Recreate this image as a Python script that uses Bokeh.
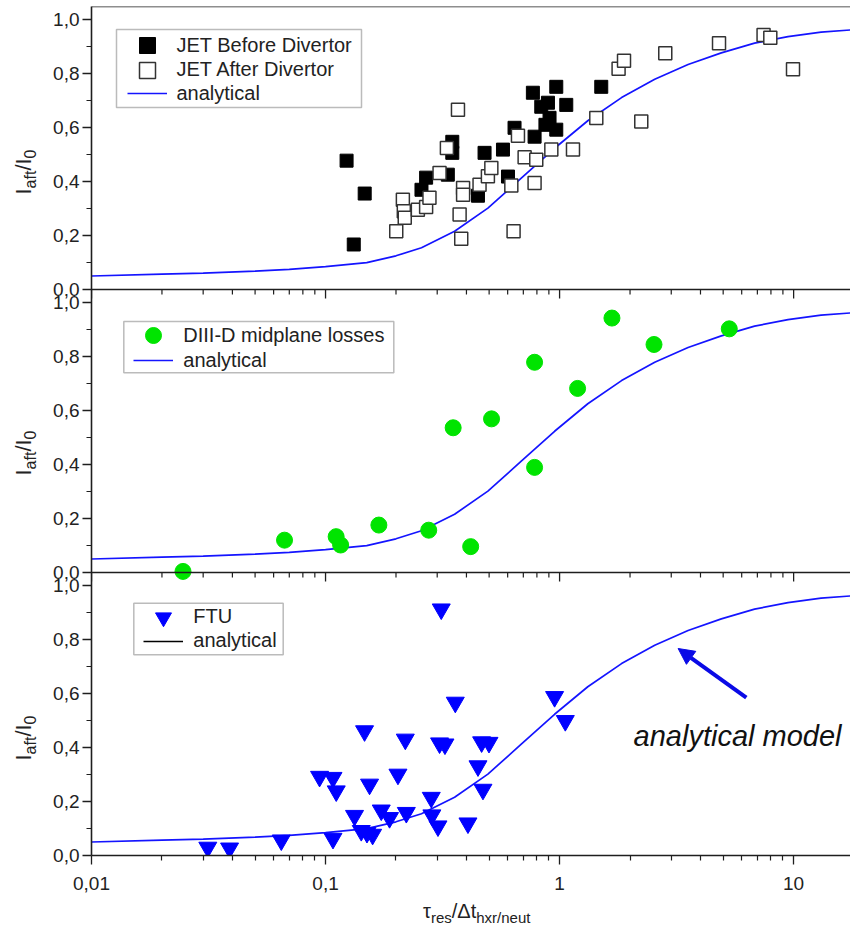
import math
from bokeh.plotting import figure
from bokeh.layouts import row, column
from bokeh.models import (Range1d, FixedTicker, Span, Label, Legend, LegendItem,
                          BoxAnnotation, Arrow, NormalHead, Div)
from bokeh.embed import file_html
from bokeh.resources import INLINE

# ---------------- data ----------------
curve_x = [0.01, 0.02, 0.03, 0.05, 0.07, 0.1, 0.15, 0.2, 0.257, 0.356, 0.494, 0.686,
           0.952, 1.32, 1.84, 2.55, 3.54, 4.91, 6.81, 9.46, 13.1, 17.5]
curve_y = [0.050, 0.057, 0.061, 0.068, 0.075, 0.085, 0.100, 0.125, 0.155, 0.216, 0.302, 0.413,
           0.524, 0.626, 0.712, 0.780, 0.835, 0.878, 0.914, 0.938, 0.955, 0.963]

jet_before_x = [0.123, 0.147, 0.132, 0.257, 0.269, 0.348, 0.348, 0.333, 0.448, 0.478, 0.573,
                0.602, 0.642, 0.769, 0.782, 0.892, 0.906, 0.968, 0.968, 1.068, 1.507, 0.835, 0.870]
jet_before_y = [0.478, 0.356, 0.167, 0.370, 0.415, 0.548, 0.507, 0.426, 0.348, 0.507, 0.519,
                0.419, 0.600, 0.730, 0.567, 0.693, 0.637, 0.752, 0.593, 0.685, 0.752, 0.678, 0.611]

jet_after_x = [0.368, 0.330, 0.214, 0.216, 0.218, 0.2005, 0.248, 0.269, 0.278, 0.307, 0.387,
               0.387, 0.374, 0.380, 0.455, 0.494, 0.511, 0.664, 0.709, 0.795, 0.922, 1.141,
               0.782, 0.622, 0.636, 1.435, 2.234, 1.787, 1.885, 2.829, 4.80, 7.44, 7.95, 9.94]
jet_after_y = [0.667, 0.525, 0.333, 0.290, 0.266, 0.216, 0.296, 0.306, 0.340, 0.432, 0.377,
               0.352, 0.278, 0.188, 0.389, 0.420, 0.451, 0.570, 0.491, 0.481, 0.519, 0.519,
               0.395, 0.386, 0.216, 0.636, 0.623, 0.819, 0.849, 0.877, 0.914, 0.944, 0.934, 0.817]

diiid_x = [0.0246, 0.0668, 0.111, 0.116, 0.169, 0.276, 0.417, 0.351, 0.512, 0.782, 0.782,
           1.194, 1.674, 2.532, 5.31]
diiid_y = [0.004, 0.120, 0.133, 0.102, 0.176, 0.157, 0.096, 0.537, 0.570, 0.780, 0.390,
           0.683, 0.944, 0.846, 0.904]

ftu_x = [0.0314, 0.0389, 0.0647, 0.1076, 0.0943, 0.1076, 0.1111, 0.1468, 0.1542, 0.133,
         0.1503, 0.1589, 0.1421, 0.173, 0.1877, 0.2039, 0.2192, 0.2214, 0.3122, 0.283,
         0.2847, 0.3023, 0.307, 0.3238, 0.3584, 0.406, 0.4481, 0.4706, 0.4644, 0.4993,
         0.952, 1.058]
ftu_y = [0.030, 0.027, 0.057, 0.063, 0.293, 0.289, 0.239, 0.462, 0.264, 0.148,
         0.085, 0.078, 0.092, 0.168, 0.140, 0.301, 0.431, 0.159, 0.914, 0.215,
         0.150, 0.109, 0.417, 0.413, 0.568, 0.120, 0.332, 0.245, 0.421, 0.419,
         0.589, 0.500]

panel_y_ticks = [0.0, 0.2, 0.4, 0.6, 0.8, 1.0]
panel_y_minor = [0.1, 0.3, 0.5, 0.7, 0.9]
x_major = [0.01, 0.1, 1.0, 10.0]
x_major_labels = ["0,01", "0,1", "1", "10"]
x_minor = [m * d for d in (0.01, 0.1, 1.0) for m in range(2, 10)] + [m * 10.0 for m in range(2, 10)]

# ---------------- style ----------------
FONT = "Liberation Sans"
AX = "#1e1e1e"
BLUE = "#1414ff"
GREEN = "#00e400"
X_MIN, X_MAX = 0.01, 17.5
PH = 1.05  # height of one panel in y units
YDIV_W = 40
FIG_W, FIG_H = 850 - YDIV_W, 895

p = figure(width=FIG_W, height=FIG_H, x_axis_type="log", x_range=Range1d(X_MIN, X_MAX),
           y_range=Range1d(0, 3 * PH), output_backend="svg", toolbar_location=None,
           min_border_left=91 - YDIV_W, min_border_right=0, min_border_top=6,
           min_border_bottom=40)
p.extra_y_ranges = {"p1": Range1d(-2 * PH, PH), "p2": Range1d(-PH, 2 * PH),
                    "off": Range1d(5, 6)}
p.outline_line_color = None
p.xgrid.visible = False
p.ygrid.visible = False
p.background_fill_color = "white"
p.border_fill_color = "white"

# y axis: three stacked panels on one axis
yt, ym, yo = [], [], {}
for off in (0.0, PH, 2 * PH):
    for v in panel_y_ticks:
        t = round(off + v, 4)
        yt.append(t)
        yo[t] = f"{v:.1f}".replace(".", ",")
    for v in panel_y_minor:
        ym.append(round(off + v, 4))
ax = p.yaxis[0]
ax.ticker = FixedTicker(ticks=yt, minor_ticks=ym)
ax.major_label_overrides = yo
ax.major_tick_out = 9
ax.major_tick_in = 0
ax.minor_tick_out = 5
ax.minor_tick_in = 0
ax.major_label_standoff = 3
for a in (p.yaxis[0], p.xaxis[0]):
    a.axis_line_color = AX
    a.axis_line_width = 1.6
    a.major_tick_line_color = AX
    a.minor_tick_line_color = AX
    a.major_tick_line_width = 1.3
    a.minor_tick_line_width = 1.2
    a.major_label_text_font = FONT
    a.major_label_text_font_size = "19px"
    a.major_label_text_color = "#222222"

bx = p.xaxis[0]
bx.ticker = FixedTicker(ticks=x_major, minor_ticks=x_minor)
bx.major_label_overrides = dict(zip(x_major, x_major_labels))
bx.major_tick_out = 9
bx.major_tick_in = 0
bx.minor_tick_out = 5
bx.minor_tick_in = 0
bx.major_label_standoff = 12

# panel frames and the tick rows on the inner panel boundaries
for loc in (PH, 2 * PH, 3 * PH):
    p.add_layout(Span(location=loc, dimension="width", line_color=AX, line_width=1.6))
MAJ_L, MIN_L = 9 / 269.5, 5 / 269.5
for b in (PH, 2 * PH):
    p.segment(x0=x_major, y0=[b] * len(x_major), x1=x_major, y1=[b - MAJ_L] * len(x_major),
              line_color=AX, line_width=1.3)
    p.segment(x0=x_minor, y0=[b] * len(x_minor), x1=x_minor, y1=[b - MIN_L] * len(x_minor),
              line_color=AX, line_width=1.2)

# ---------------- panel 1: JET ----------------
c1 = p.line(curve_x, curve_y, line_color=BLUE, line_width=1.7, y_range_name="p1")
r_bef = p.scatter(jet_before_x, jet_before_y, marker="square", size=13, fill_color="black",
                  line_color="black", y_range_name="p1")
r_aft = p.scatter(jet_after_x, jet_after_y, marker="square", size=13, fill_color="white",
                  line_color="#333333", line_width=1.5, y_range_name="p1")

# ---------------- panel 2: DIII-D ----------------
c2 = p.line(curve_x, curve_y, line_color=BLUE, line_width=1.7, y_range_name="p2")
r_d3d = p.scatter(diiid_x, diiid_y, marker="circle", size=16, fill_color=GREEN,
                  line_color=GREEN, y_range_name="p2")

# ---------------- panel 3: FTU ----------------
c3 = p.line(curve_x, curve_y, line_color=BLUE, line_width=1.7)
r_ftu = p.scatter(ftu_x, ftu_y, marker="inverted_triangle", size=18, fill_color="#0000ff",
                  line_color="#0000ff")
# legend-only (black) copy of the curve, drawn on a range that keeps it out of view
c3_leg = p.line(curve_x, curve_y, line_color="black", line_width=1.5, y_range_name="off")

# ---------------- legends ----------------
def add_legend(entries, box, vx, vys):
    l, b, r, t = box
    p.add_layout(BoxAnnotation(left=l, right=r, bottom=b, top=t, left_units="screen",
                               right_units="screen", bottom_units="screen", top_units="screen",
                               fill_color="white", fill_alpha=1.0, line_color=AX,
                               line_width=1.5))
    for (label, rend), vy in zip(entries, vys):
        p.add_layout(Legend(items=[LegendItem(label=label, renderers=[rend])],
                            location=(vx, vy), glyph_width=40, glyph_height=40,
                            label_height=20, spacing=0, padding=0, label_standoff=10,
                            margin=0, border_line_color=None, background_fill_alpha=0.0,
                            label_text_font=FONT, label_text_font_size="20px",
                            label_text_color="#222222"))

# positions in px from the frame's bottom-left corner
add_legend([("JET Before Divertor", r_bef), ("JET After Divertor", r_aft), ("analytical", c1)],
           (25, 748, 270, 826), 35.5, [790, 765.5, 742])
add_legend([("DIII-D midplane losses", r_d3d), ("analytical", c2)],
           (32.3, 482.7, 302.3, 534), 42.3, [500, 475])
add_legend([("FTU", r_ftu), ("analytical", c3_leg)],
           (42.3, 200.7, 191.7, 252.3), 52.3, [218.3, 194.3])

# ---------------- annotation ----------------
p.add_layout(Label(x=2.071, y=0.4425, text="analytical model", text_font=FONT,
                   text_font_style="italic", text_font_size="29px", text_color="#111111",
                   text_align="left", text_baseline="alphabetic"))
p.add_layout(Arrow(end=NormalHead(size=16, fill_color="#0a0ae6", line_color="#0a0ae6"),
                   x_start=6.28, y_start=0.586, x_end=3.21, y_end=0.768,
                   line_color="#0a0ae6", line_width=4))

# ---------------- axis titles (HTML, for the sub-scripts) ----------------
ylab_html = "I<sub style='font-size:16px'>aft</sub>/I<sub style='font-size:16px'>0</sub>"
ylab_centres = [172, 453, 738]
ytxt = "<div style='position:relative;width:%dpx;height:%dpx'>" % (YDIV_W, FIG_H)
for cy in ylab_centres:
    ytxt += ("<div style=\"position:absolute;left:26px;top:%dpx;transform:translate(-50%%,-50%%) "
             "rotate(-90deg);white-space:nowrap;font-family:'Liberation Sans';font-size:22px;"
             "line-height:1;color:#222\">%s</div>" % (cy, ylab_html))
ytxt += "</div>"
ydiv = Div(text=ytxt, width=YDIV_W, height=FIG_H, margin=0,
           styles={"padding": "0", "overflow": "visible"})

xlab_html = ("τ<sub style='font-size:15px'>res</sub>/Δt"
             "<sub style='font-size:15px'>hxr/neut</sub>")
xtxt = ("<div style='position:relative;width:850px;height:42px'>"
        "<div style=\"position:absolute;left:423px;top:6px;white-space:nowrap;"
        "font-family:'Liberation Sans';font-size:20px;line-height:1;color:#222\">%s</div></div>"
        % xlab_html)
xdiv = Div(text=xtxt, width=850, height=937 - FIG_H, margin=0,
           styles={"padding": "0", "overflow": "visible"})

layout = column(row(ydiv, p, spacing=0), xdiv, spacing=0)
open("out.html", "w").write(file_html(layout, INLINE))
